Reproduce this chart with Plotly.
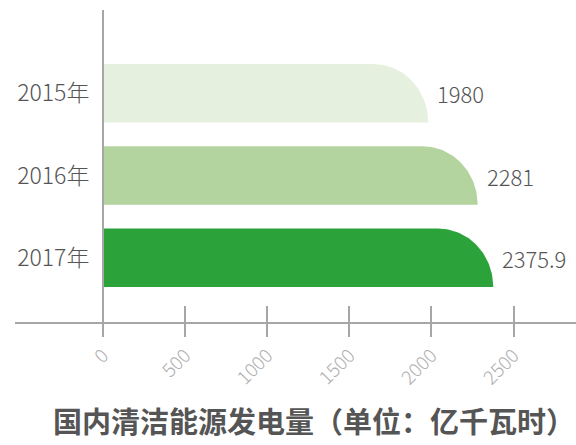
import math
import plotly.graph_objects as go

# ---- data ----
years = ["2015年", "2016年", "2017年"]
values = [1980, 2281, 2375.9]
value_labels = ["1980", "2281", "2375.9"]
bar_colors = ["#e5f0df", "#b3d49e", "#2ca33a"]
x_ticks = [0, 500, 1000, 1500, 2000, 2500]
title_text = "国内清洁能源发电量（单位：亿千瓦时）"

# ---- style ----
W, H = 576, 445
ML, MR, MT, MB = 15, 0, 10, 123
X_RANGE = [-536, 2880]
Y_RANGE = [2.781, -1.012]
BAR_H = 0.711           # bar thickness in category units
CORNER_PX = 55          # horizontal radius of the rounded corner in px
AXIS_COLOR = "#a6a6a6"
FONT = "Noto Sans CJK SC"

plot_w = W - ML - MR
plot_h = H - MT - MB
px_per_unit = plot_w / (X_RANGE[1] - X_RANGE[0])
rx = CORNER_PX / px_per_unit

fig = go.Figure()
for i, (v, c) in enumerate(zip(values, bar_colors)):
    top = i - BAR_H / 2
    bot = i + BAR_H / 2
    xs = [0, v]
    ys = [bot, bot]
    n = 40
    for k in range(n + 1):
        t = math.pi / 2 * k / n
        xs.append(v - rx + rx * math.cos(t))
        ys.append(bot - BAR_H * math.sin(t))
    xs += [0, 0]
    ys += [top, bot]
    fig.add_trace(go.Scatter(x=xs, y=ys, fill="toself", fillcolor=c,
                             mode="lines", line=dict(width=0, color=c),
                             hoverinfo="skip", showlegend=False))

# invisible trace for the overlay axis (upper half of the ticks)
fig.add_trace(go.Scatter(x=[0], y=[0], xaxis="x2", mode="none",
                         showlegend=False, hoverinfo="skip"))

for i, (v, lab) in enumerate(zip(values, value_labels)):
    fig.add_annotation(x=v, y=i, text=lab, showarrow=False, xanchor="left",
                       yanchor="middle", xshift=7, yshift=0,
                       font=dict(family=FONT, size=22, color="#555555",
                                 weight=300))

fig.add_annotation(x=(314 - ML) / plot_w, y=(322 - 419.5) / plot_h,
                   xref="paper", yref="paper", text=title_text, showarrow=False,
                   xanchor="center", yanchor="middle",
                   font=dict(family=FONT, size=29, color="#555555", weight="bold"))

fig.update_layout(
    width=W, height=H,
    margin=dict(l=ML, r=MR, t=MT, b=MB),
    paper_bgcolor="white", plot_bgcolor="white",
    font=dict(family=FONT),
    xaxis=dict(range=X_RANGE, tickvals=x_ticks, ticks="outside", ticklen=13,
               tickwidth=2, tickcolor=AXIS_COLOR, showline=True,
               linecolor=AXIS_COLOR, linewidth=2, showgrid=False,
               zeroline=False, tickangle=-45,
               tickfont=dict(family=FONT, size=19, color="#b0b0b0", weight=300)),
    xaxis2=dict(range=X_RANGE, matches="x", overlaying="x", anchor="y",
                side="bottom", tickvals=x_ticks, ticks="inside", ticklen=16,
                tickwidth=2, tickcolor=AXIS_COLOR, showline=False,
                showgrid=False, zeroline=False, showticklabels=False),
    yaxis=dict(range=Y_RANGE, tickvals=list(range(len(years))), ticktext=years,
               anchor="free", position=(103 - ML) / plot_w, showline=True,
               linecolor=AXIS_COLOR, linewidth=2, showgrid=False,
               zeroline=False, ticks="", ticklabelstandoff=8,
               tickfont=dict(family=FONT, size=23, color="#555555", weight=300)),
)

fig.write_html("out.html",
               config={"displayModeBar": False},
               post_script="document.body.style.margin='0px';document.body.style.padding='0px';")
